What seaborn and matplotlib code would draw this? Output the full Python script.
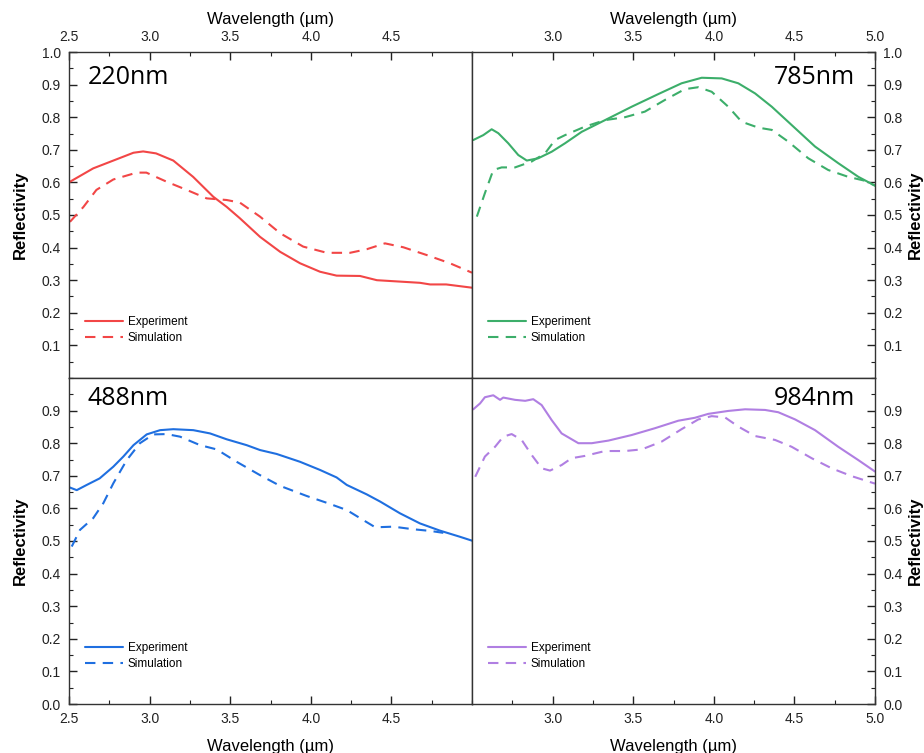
import numpy as np
import pandas as pd
import matplotlib
matplotlib.use("Agg")
import matplotlib.pyplot as plt
from matplotlib.ticker import MultipleLocator, FixedLocator
import seaborn as sns

# --- datos ---
# 220nm
x_220_exp = [2.506, 2.65, 2.775, 2.90, 2.96, 3.04, 3.147, 3.27, 3.395, 3.478, 3.56, 3.685, 3.81,
             3.933, 4.057, 4.16, 4.305, 4.41, 4.677, 4.74, 4.84, 5.0]
y_220_exp = [0.602, 0.643, 0.667, 0.691, 0.695, 0.689, 0.667, 0.617, 0.556, 0.525, 0.49, 0.433, 0.387,
             0.352, 0.326, 0.314, 0.313, 0.30, 0.292, 0.287, 0.287, 0.277]
x_220_sim = [2.506, 2.59, 2.67, 2.775, 2.92, 2.98, 3.106, 3.23, 3.354, 3.478, 3.56, 3.685, 3.81,
             3.953, 4.10, 4.243, 4.347, 4.46, 4.574, 4.72, 4.863, 5.0]
y_220_sim = [0.479, 0.525, 0.577, 0.609, 0.63, 0.63, 0.602, 0.577, 0.551, 0.546, 0.538, 0.495, 0.444,
             0.403, 0.384, 0.384, 0.395, 0.413, 0.401, 0.377, 0.352, 0.323]

# 785nm
x_785_exp = [2.508, 2.57, 2.622, 2.663, 2.725, 2.787, 2.84, 2.911, 2.994, 3.077, 3.18, 3.325, 3.49,
             3.656, 3.80, 3.925, 4.049, 4.152, 4.256, 4.36, 4.483, 4.628, 4.772, 4.897, 5.0]
y_785_exp = [0.730, 0.745, 0.763, 0.751, 0.72, 0.684, 0.667, 0.674, 0.694, 0.72, 0.755, 0.791, 0.832,
             0.871, 0.904, 0.921, 0.919, 0.904, 0.873, 0.832, 0.776, 0.71, 0.659, 0.617, 0.59]
x_785_sim = [2.53, 2.58, 2.632, 2.684, 2.767, 2.87, 2.953, 3.015, 3.077, 3.20, 3.325, 3.449, 3.572,
             3.697, 3.82, 3.904, 3.987, 4.09, 4.173, 4.276, 4.36, 4.462, 4.586, 4.71, 4.834, 4.938, 5.0]
y_785_sim = [0.495, 0.567, 0.638, 0.646, 0.646, 0.664, 0.689, 0.73, 0.745, 0.771, 0.791, 0.80, 0.817,
             0.853, 0.886, 0.892, 0.878, 0.832, 0.786, 0.768, 0.761, 0.725, 0.674, 0.638, 0.617, 0.605, 0.59]

# 488nm
x_488_exp = [2.506, 2.548, 2.61, 2.69, 2.775, 2.837, 2.90, 2.982, 3.065, 3.147, 3.271, 3.375, 3.478,
             3.602, 3.685, 3.788, 3.933, 4.057, 4.16, 4.223, 4.347, 4.43, 4.553, 4.677, 4.80, 4.925, 5.0]
y_488_exp = [0.664, 0.656, 0.672, 0.692, 0.728, 0.759, 0.794, 0.827, 0.84, 0.843, 0.84, 0.83, 0.812,
             0.794, 0.779, 0.767, 0.743, 0.718, 0.695, 0.672, 0.643, 0.621, 0.585, 0.554, 0.532, 0.513, 0.501]
x_488_sim = [2.517, 2.568, 2.65, 2.713, 2.775, 2.858, 2.94, 3.023, 3.106, 3.189, 3.313, 3.416, 3.54,
             3.685, 3.81, 3.975, 4.10, 4.223, 4.326, 4.40, 4.512, 4.636, 4.74, 4.822]
y_488_sim = [0.483, 0.534, 0.57, 0.616, 0.677, 0.748, 0.80, 0.827, 0.828, 0.82, 0.794, 0.781, 0.743,
             0.702, 0.669, 0.638, 0.617, 0.595, 0.564, 0.542, 0.544, 0.536, 0.531, 0.525]

# 984nm
x_984_exp = [2.508, 2.55, 2.58, 2.632, 2.674, 2.694, 2.767, 2.83, 2.88, 2.932, 2.994, 3.056, 3.16,
             3.243, 3.346, 3.49, 3.635, 3.78, 3.883, 3.966, 4.09, 4.194, 4.318, 4.40, 4.504, 4.628,
             4.772, 4.897, 5.0]
y_984_exp = [0.904, 0.922, 0.941, 0.947, 0.933, 0.94, 0.933, 0.93, 0.935, 0.917, 0.871, 0.83, 0.80,
             0.80, 0.808, 0.825, 0.846, 0.869, 0.878, 0.89, 0.899, 0.904, 0.902, 0.895, 0.873, 0.84,
             0.789, 0.748, 0.713]
x_984_sim = [2.52, 2.58, 2.643, 2.694, 2.746, 2.808, 2.87, 2.932, 2.984, 3.056, 3.118, 3.20, 3.325,
             3.449, 3.553, 3.677, 3.80, 3.904, 3.987, 4.07, 4.152, 4.256, 4.38, 4.483, 4.607, 4.731,
             4.855, 5.0]
y_984_sim = [0.697, 0.759, 0.789, 0.82, 0.828, 0.81, 0.764, 0.723, 0.716, 0.733, 0.754, 0.761, 0.776,
             0.776, 0.781, 0.805, 0.843, 0.873, 0.883, 0.879, 0.851, 0.822, 0.81, 0.789, 0.754, 0.723,
             0.699, 0.676]

etiquetas = ["220nm", "785nm", "488nm", "984nm"]
colores = ["#f24646", "#3cae6a", "#1f6fe0", "#b07fe2"]
datos = [(x_220_exp, y_220_exp, x_220_sim, y_220_sim),
         (x_785_exp, y_785_exp, x_785_sim, y_785_sim),
         (x_488_exp, y_488_exp, x_488_sim, y_488_sim),
         (x_984_exp, y_984_exp, x_984_sim, y_984_sim)]

sns.set_theme(style="ticks")
plt.rcParams['font.family'] = ['Liberation Sans', 'DejaVu Sans']
plt.rcParams['text.color'] = 'black'
plt.rcParams['axes.labelcolor'] = 'black'

fig, axes = plt.subplots(2, 2, figsize=(9.24, 7.53), dpi=100)
fig.subplots_adjust(left=69/924, right=875/924, top=1-52/753, bottom=1-704/753,
                    hspace=0, wspace=0)

for i, ax in enumerate(axes.flat):
    xe, ye, xs, ys = datos[i]
    df_e = pd.DataFrame({"x": xe, "y": ye})
    df_s = pd.DataFrame({"x": xs, "y": ys})
    sns.lineplot(data=df_e, x="x", y="y", ax=ax, color=colores[i], lw=1.5,
                 label="Experiment", sort=False)
    sns.lineplot(data=df_s, x="x", y="y", ax=ax, color=colores[i], lw=1.5,
                 label="Simulation", sort=False)
    ax.lines[-1].set_linestyle((0, (5, 3.5)))

    ax.set_xlim(2.5, 5.0)
    ax.set_ylim(0, 1.0)
    ax.xaxis.set_minor_locator(MultipleLocator(0.25))
    ax.yaxis.set_minor_locator(MultipleLocator(0.05))

    fila, col = divmod(i, 2)
    # ticks solo en los bordes exteriores
    ax.tick_params(which="both", direction="in", labelsize=10, colors="#222222",
                   top=(fila == 0), bottom=(fila == 1), left=(col == 0), right=(col == 1),
                   labeltop=(fila == 0), labelbottom=(fila == 1),
                   labelleft=(col == 0), labelright=(col == 1), pad=6)
    ax.tick_params(which="major", length=6, width=1)
    ax.tick_params(which="minor", length=3, width=0.8)

    if col == 0:
        ax.xaxis.set_major_locator(FixedLocator([2.5, 3.0, 3.5, 4.0, 4.5]))
    else:
        ax.xaxis.set_major_locator(FixedLocator([3.0, 3.5, 4.0, 4.5, 5.0]))
    if fila == 0:
        ax.yaxis.set_major_locator(FixedLocator([0.1, 0.2, 0.3, 0.4, 0.5, 0.6, 0.7, 0.8, 0.9, 1.0]))
        ax.xaxis.set_label_position("top")
    else:
        ax.yaxis.set_major_locator(FixedLocator([0.0, 0.1, 0.2, 0.3, 0.4, 0.5, 0.6, 0.7, 0.8, 0.9]))
    ax.xaxis.set_major_formatter(plt.FuncFormatter(lambda v, p: f"{v:.1f}"))
    ax.yaxis.set_major_formatter(plt.FuncFormatter(lambda v, p: f"{v:.1f}"))

    ax.set_xlabel("Wavelength (µm)", fontsize=12, labelpad=4 if fila == 0 else 9)
    if col == 1:
        ax.yaxis.set_label_position("right")
        ax.set_ylabel("Reflectivity", fontsize=12, fontweight="bold", labelpad=4, rotation=90)
    else:
        ax.set_ylabel("Reflectivity", fontsize=12, fontweight="bold", labelpad=10)

    for s in ax.spines.values():
        s.set_color("#333333")
        s.set_linewidth(1.0)

    if col == 0:
        ax.text(0.047, 0.96 if fila == 0 else 0.975, etiquetas[i], transform=ax.transAxes,
                ha="left", va="top", fontsize=18, color="black",
                family=["Open Sans", "DejaVu Sans"])
    else:
        ax.text(0.95, 0.96 if fila == 0 else 0.975, etiquetas[i], transform=ax.transAxes,
                ha="right", va="top", fontsize=18, color="black",
                family=["Open Sans", "DejaVu Sans"])

    ax.legend(loc="upper left", bbox_to_anchor=(0.02, 0.215), frameon=False, fontsize=8.5,
              handlelength=3.2, labelspacing=0.35, handletextpad=0.4, borderpad=0.2)

fig.savefig("out.png", dpi=100)
